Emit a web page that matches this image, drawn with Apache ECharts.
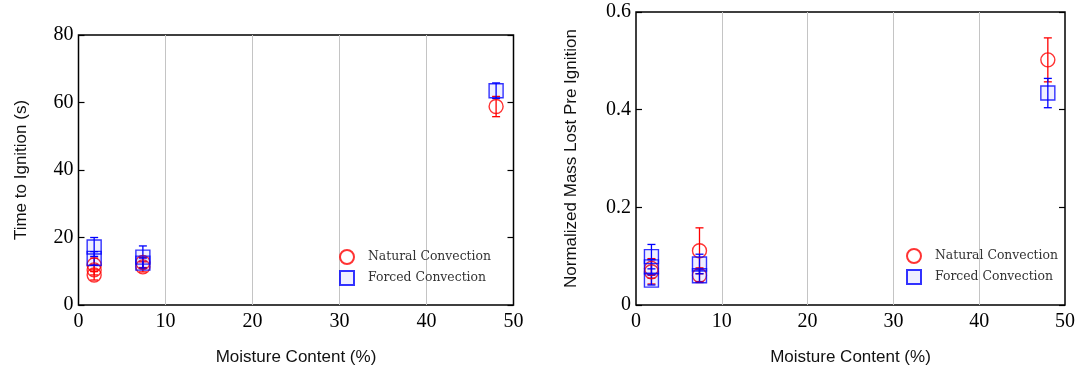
<!DOCTYPE html>
<html>
<head>
<meta charset="utf-8">
<script src="https://cdn.jsdelivr.net/npm/echarts@6/dist/echarts.min.js"></script>
<style>
html, body { margin: 0; padding: 0; background: #fff; }
#chart { width: 1083px; height: 376px; }
</style>
</head>
<body>
<div id="chart"></div>
<script>
// time to ignition (s)
const naturalTigX = [1.8, 1.8, 1.8, 7.4, 7.4, 48.0];
const naturalTig = [11.9, 10.4, 8.9, 12.6, 11.3, 58.8];
const naturalTigErr = [2.0, 1.5, 1.5, 1.5, 1.5, 3.0];
const forcedTigX = [1.8, 1.8, 7.4, 7.4, 48.0];
const forcedTig = [17.2, 13.8, 14.2, 12.4, 63.5];
const forcedTigErr = [2.8, 2.0, 3.3, 1.5, 2.3];

// normalized mass lost pre ignition
const naturalMassX = [1.8, 1.8, 7.4, 7.4, 48.0];
const naturalMass = [0.075, 0.068, 0.111, 0.061, 0.502];
const naturalMassErr = [0.02, 0.025, 0.047, 0.015, 0.045];
const forcedMassX = [1.8, 1.8, 1.8, 7.4, 7.4, 48.0];
const forcedMass = [0.099, 0.078, 0.051, 0.084, 0.060, 0.434];
const forcedMassErr = [0.025, 0.015, 0.01, 0.02, 0.012, 0.03];

const xTicks = [0, 10, 20, 30, 40, 50];
const tigTicks = [0, 20, 40, 60, 80];
const massTicks = [0, 0.2, 0.4, 0.6];

const RED = "#ff0000";
const BLUE = "#0000ff";
const serif = "Liberation Serif";
const sans = "Liberation Sans";

function zip(xs, ys, es) {
    return xs.map((x, i) => [x, ys[i], es[i]]);
}

function errorBars(color) {
    return function (params, api) {
        const x = api.value(0), y = api.value(1), e = api.value(2);
        const top = api.coord([x, y + e]);
        const bot = api.coord([x, y - e]);
        const cap = 4;
        const style = { stroke: color, lineWidth: 1.3 };
        return {
            type: "group",
            children: [
                { type: "line", shape: { x1: top[0], y1: top[1], x2: bot[0], y2: bot[1] }, style: style },
                { type: "line", shape: { x1: top[0] - cap, y1: top[1], x2: top[0] + cap, y2: top[1] }, style: style },
                { type: "line", shape: { x1: bot[0] - cap, y1: bot[1], x2: bot[0] + cap, y2: bot[1] }, style: style }
            ]
        };
    };
}

function xAxis(gridIndex) {
    return {
        type: "value",
        gridIndex: gridIndex,
        min: xTicks[0],
        max: xTicks[xTicks.length - 1],
        interval: 10,
        name: "Moisture Content (%)",
        nameLocation: "middle",
        nameGap: 44,
        nameTextStyle: { fontFamily: sans, fontSize: 17, color: "#111" },
        axisLine: { show: false },
        axisTick: { show: false },
        axisLabel: { fontFamily: serif, fontSize: 20, color: "#000", margin: 7 },
        splitLine: { show: true, showMinLine: false, showMaxLine: false, lineStyle: { color: "#c4c4c4", width: 1 } }
    };
}

function yAxis(gridIndex, ticks, name, gap, fmt) {
    return {
        type: "value",
        gridIndex: gridIndex,
        min: ticks[0],
        max: ticks[ticks.length - 1],
        interval: ticks[1] - ticks[0],
        name: name,
        nameLocation: "middle",
        nameGap: gap,
        nameTextStyle: { fontFamily: sans, fontSize: 17, color: "#111" },
        axisLine: { show: false },
        axisTick: { show: true, inside: true, length: 6, lineStyle: { color: "#000", width: 1.2 } },
        axisLabel: { fontFamily: serif, fontSize: 20, color: "#000", margin: 5, formatter: fmt },
        splitLine: { show: false }
    };
}

function yAxisRight(gridIndex, ticks) {
    return {
        type: "value",
        gridIndex: gridIndex,
        position: "right",
        min: ticks[0],
        max: ticks[ticks.length - 1],
        interval: ticks[1] - ticks[0],
        axisLine: { show: false },
        axisTick: { show: true, inside: true, length: 6, lineStyle: { color: "#000", width: 1.2 } },
        axisLabel: { show: false },
        splitLine: { show: false }
    };
}

function legend(left, top) {
    return {
        orient: "vertical",
        left: left,
        top: top,
        itemWidth: 14,
        itemHeight: 14,
        itemGap: 5,
        textStyle: { fontFamily: "DejaVu Serif", fontSize: 12.4, color: "#333", padding: [0, 0, 0, 9] },
        data: ["Natural Convection", "Forced Convection"]
    };
}

const chart = echarts.init(document.getElementById("chart"));
chart.setOption({
    animation: false,
    grid: [
        { left: 78.5, right: 569.5, top: 35, bottom: 71, show: true, borderColor: "#000", borderWidth: 1.5, backgroundColor: "transparent" },
        { left: 636, right: 18, top: 12, bottom: 71, show: true, borderColor: "#000", borderWidth: 1.5, backgroundColor: "transparent" }
    ],
    legend: [legend(334, 244), legend(901, 243)],
    xAxis: [xAxis(0), xAxis(1)],
    yAxis: [
        yAxis(0, tigTicks, "Time to Ignition (s)", 49),
        yAxisRight(0, tigTicks),
        yAxis(1, massTicks, "Normalized Mass Lost Pre Ignition", 56, v => v === 0 ? "0" : v.toFixed(1)),
        yAxisRight(1, massTicks)
    ],
    series: [
        {
            type: "custom", xAxisIndex: 0, yAxisIndex: 0, silent: true,
            renderItem: errorBars(RED), data: zip(naturalTigX, naturalTig, naturalTigErr), encode: { x: 0, y: 1 }
        },
        {
            type: "custom", xAxisIndex: 0, yAxisIndex: 0, silent: true,
            renderItem: errorBars(BLUE), data: zip(forcedTigX, forcedTig, forcedTigErr), encode: { x: 0, y: 1 }
        },
        {
            type: "custom", xAxisIndex: 1, yAxisIndex: 2, silent: true,
            renderItem: errorBars(RED), data: zip(naturalMassX, naturalMass, naturalMassErr), encode: { x: 0, y: 1 }
        },
        {
            type: "custom", xAxisIndex: 1, yAxisIndex: 2, silent: true,
            renderItem: errorBars(BLUE), data: zip(forcedMassX, forcedMass, forcedMassErr), encode: { x: 0, y: 1 }
        },
        {
            name: "Natural Convection", type: "scatter", xAxisIndex: 0, yAxisIndex: 0,
            symbol: "circle", symbolSize: 14,
            itemStyle: { color: "rgba(255,0,0,0)", borderColor: RED, borderWidth: 1.4 },
            data: naturalTigX.map((x, i) => [x, naturalTig[i]])
        },
        {
            name: "Forced Convection", type: "scatter", xAxisIndex: 0, yAxisIndex: 0,
            symbol: "rect", symbolSize: 14,
            itemStyle: { color: "rgba(0,0,255,0.08)", borderColor: BLUE, borderWidth: 1.4 },
            data: forcedTigX.map((x, i) => [x, forcedTig[i]])
        },
        {
            name: "Natural Convection", type: "scatter", xAxisIndex: 1, yAxisIndex: 2,
            symbol: "circle", symbolSize: 14,
            itemStyle: { color: "rgba(255,0,0,0)", borderColor: RED, borderWidth: 1.4 },
            data: naturalMassX.map((x, i) => [x, naturalMass[i]])
        },
        {
            name: "Forced Convection", type: "scatter", xAxisIndex: 1, yAxisIndex: 2,
            symbol: "rect", symbolSize: 14,
            itemStyle: { color: "rgba(0,0,255,0.08)", borderColor: BLUE, borderWidth: 1.4 },
            data: forcedMassX.map((x, i) => [x, forcedMass[i]])
        }
    ]
});
</script>
</body>
</html>
